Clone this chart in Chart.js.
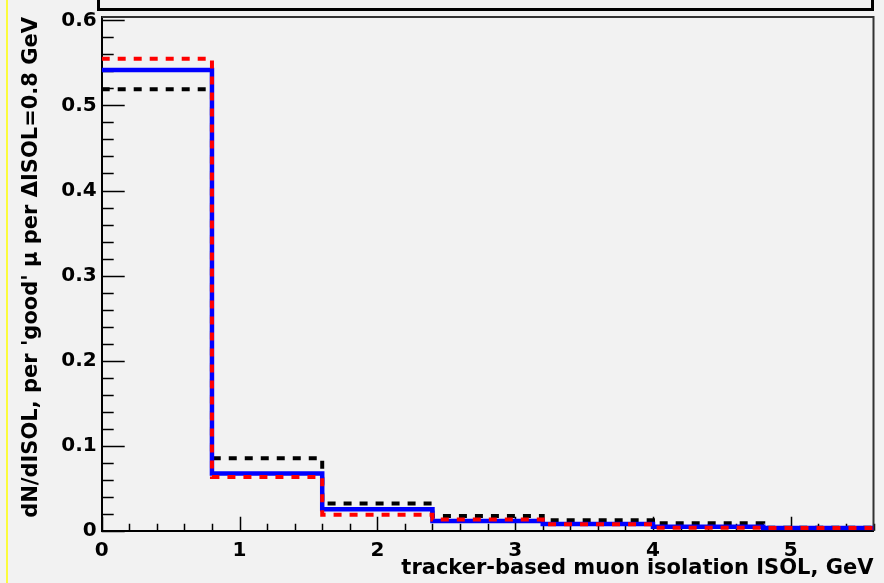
<!DOCTYPE html>
<html>
<head>
<meta charset="utf-8">
<script src="https://cdn.jsdelivr.net/npm/chart.js@4.4.1/dist/chart.umd.min.js"></script>
<style>
  html, body { margin: 0; padding: 0; background: #f2f2f2; }
  #wrap { width: 884px; height: 583px; position: relative; }
</style>
</head>
<body>
<div id="wrap"><canvas id="c" width="884" height="583"></canvas></div>
<script>
// Histogram bin edges (GeV), 0.8 GeV wide bins
const binEdges = [0, 0.8, 1.6, 2.4, 3.2, 4.0, 4.8, 5.6];

// dN/dISOL per bin for the three samples
const blackValues = [0.519, 0.0852, 0.0321, 0.0172, 0.0122, 0.0087, 0.0035];
const blueValues  = [0.5416, 0.0672, 0.0251, 0.0114, 0.0078, 0.0047, 0.0033];
const redValues   = [0.555, 0.0632, 0.0187, 0.0131, 0.0075, 0.0035, 0.0033];

// Axis tick labels
const xTickValues = [0, 1, 2, 3, 4, 5];
const yTickValues = [0, 0.1, 0.2, 0.3, 0.4, 0.5, 0.6];

const xTitle = 'tracker-based muon isolation ISOL, GeV';
const yTitle = "dN/dISOL, per 'good' \u03bc per \u0394ISOL=0.8 GeV";

// Turn bin contents into step points (last bin closed at the upper edge)
function stepPoints(values) {
  const pts = values.map((v, i) => ({ x: binEdges[i], y: v }));
  pts.push({ x: binEdges[binEdges.length - 1], y: values[values.length - 1] });
  return pts;
}

const FONT = 'DejaVu Sans';

// Frame, inner tick marks and decorations drawn around the plot
const framePlugin = {
  id: 'frame',
  beforeDraw(chart) {
    const ctx = chart.ctx;
    ctx.save();
    ctx.fillStyle = '#f2f2f2';
    ctx.fillRect(0, 0, chart.width, chart.height);
    // yellow pad edge
    ctx.strokeStyle = '#ffff00';
    ctx.lineWidth = 1.5;
    ctx.beginPath();
    ctx.moveTo(7, 0);
    ctx.lineTo(7, chart.height);
    ctx.stroke();
    ctx.restore();
  },
  beforeDatasetsDraw(chart) {
    const ctx = chart.ctx;
    const xs = chart.scales.x, ys = chart.scales.y;
    const a = chart.chartArea;
    ctx.save();
    ctx.strokeStyle = '#000';
    ctx.lineWidth = 1.5;
    ctx.beginPath();
    // x ticks: major every 1, minor every 0.2
    for (let i = 0; i <= 28; i++) {
      const v = i * 0.2;
      const px = Math.round(xs.getPixelForValue(v)) + 0.5;
      const len = (i % 5 === 0) ? 14 : 7;
      ctx.moveTo(px, a.bottom);
      ctx.lineTo(px, a.bottom - len);
    }
    // y ticks: major every 0.1, minor every 0.02
    for (let i = 0; i <= 30; i++) {
      const v = i * 0.02;
      const py = Math.round(ys.getPixelForValue(v)) + 0.5;
      const len = (i % 5 === 0) ? 23 : 12;
      ctx.moveTo(a.left, py);
      ctx.lineTo(a.left + len, py);
    }
    ctx.stroke();

    // top and right frame edges
    ctx.strokeStyle = '#333';
    ctx.lineWidth = 2;
    ctx.beginPath();
    ctx.moveTo(a.left, a.top);
    ctx.lineTo(a.right, a.top);
    ctx.lineTo(a.right, a.bottom);
    ctx.stroke();

    // box above the frame
    ctx.fillStyle = '#f2f2f2';
    ctx.strokeStyle = '#000';
    ctx.lineWidth = 3;
    ctx.beginPath();
    ctx.rect(98.5, -10, a.right - 1 - 98.5, 19.5);
    ctx.fill();
    ctx.stroke();
    ctx.restore();
  }
};

const lineCommon = {
  stepped: true,
  pointRadius: 0,
  fill: false,
  borderCapStyle: 'butt',
  borderJoinStyle: 'miter',
  tension: 0
};

new Chart(document.getElementById('c'), {
  type: 'line',
  data: {
    datasets: [
      Object.assign({ data: stepPoints(redValues), borderColor: '#ff0000', borderWidth: 4, borderDash: [8, 8] }, lineCommon),
      Object.assign({ data: stepPoints(blueValues), borderColor: '#0000ff', borderWidth: 4.5 }, lineCommon),
      Object.assign({ data: stepPoints(blackValues), borderColor: '#000000', borderWidth: 4, borderDash: [8, 8] }, lineCommon)
    ]
  },
  options: {
    responsive: false,
    animation: false,
    devicePixelRatio: 1,
    layout: { padding: { left: 0, right: 10.5, top: 15, bottom: 0 } },
    plugins: { legend: { display: false }, tooltip: { enabled: false } },
    scales: {
      x: {
        type: 'linear',
        min: 0,
        max: 5.6,
        grid: { display: false, drawTicks: false },
        border: { display: true, color: '#000', width: 2 },
        afterBuildTicks(s) { s.ticks = xTickValues.map(v => ({ value: v })); },
        afterFit(s) { s.height = 52.3; },
        ticks: {
          color: '#000',
          padding: 8,
          maxRotation: 0,
          autoSkip: false,
          font: { family: FONT, weight: 'bold', size: 20 },
          callback: v => String(v)
        },
        title: {
          display: true,
          text: xTitle,
          align: 'end',
          color: '#000',
          padding: { top: 0, bottom: 2 },
          font: { family: FONT, weight: 'bold', size: 21 }
        }
      },
      y: {
        type: 'linear',
        min: 0,
        max: 0.604,
        grid: { display: false, drawTicks: false },
        border: { display: true, color: '#000', width: 2 },
        afterBuildTicks(s) { s.ticks = yTickValues.map(v => ({ value: v })); },
        afterFit(s) { s.width = 101.7; },
        ticks: {
          color: '#000',
          padding: 5,
          autoSkip: false,
          font: { family: FONT, weight: 'bold', size: 20 },
          callback: v => (v === 0 ? '0' : v.toFixed(1))
        },
        title: {
          display: true,
          text: yTitle,
          align: 'end',
          color: '#000',
          padding: { top: 19, bottom: 0 },
          font: { family: FONT, weight: 'bold', size: 21 }
        }
      }
    }
  },
  plugins: [framePlugin]
});
</script>
</body>
</html>
